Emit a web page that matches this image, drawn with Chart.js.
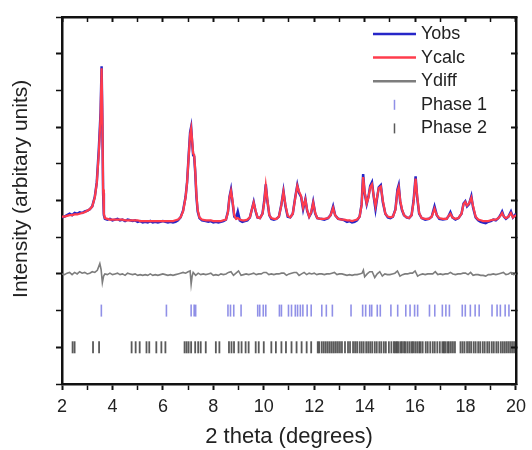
<!DOCTYPE html>
<html>
<head>
<meta charset="utf-8">
<script src="https://cdn.jsdelivr.net/npm/chart.js@4.4.0/dist/chart.umd.min.js"></script>
<style>
  html, body { margin: 0; padding: 0; background: #fff; }
  #wrap { width: 532px; height: 450px; }
</style>
</head>
<body>
<div id="wrap"><canvas id="xrdChart" width="532" height="450"></canvas></div>
<script>
// 2 theta grid of the measured / calculated pattern
const twoTheta = [
  2.00, 2.10, 2.20, 2.30, 2.40, 2.50, 2.60, 2.70, 2.80, 2.90,
  3.00, 3.10, 3.20, 3.30, 3.38, 3.46, 3.53, 3.57, 3.60, 3.63,
  3.66, 3.70, 3.80, 3.90, 4.00, 4.10, 4.20, 4.30, 4.40, 4.50,
  4.60, 4.70, 4.80, 4.90, 5.00, 5.10, 5.20, 5.30, 5.40, 5.50,
  5.60, 5.70, 5.80, 5.90, 6.00, 6.10, 6.20, 6.30, 6.40, 6.50,
  6.60, 6.70, 6.80, 6.90, 6.96, 7.02, 7.08, 7.12, 7.16, 7.20,
  7.24, 7.28, 7.33, 7.38, 7.45, 7.55, 7.70, 7.80, 7.90, 8.00,
  8.10, 8.20, 8.30, 8.40, 8.50, 8.58, 8.64, 8.70, 8.76, 8.83,
  8.90, 8.97, 9.05, 9.15, 9.25, 9.35, 9.45, 9.53, 9.60, 9.67,
  9.75, 9.85, 9.95, 10.02, 10.08, 10.14, 10.22, 10.30, 10.40, 10.50,
  10.60, 10.70, 10.78, 10.86, 10.95, 11.05, 11.15, 11.25, 11.33, 11.40,
  11.48, 11.56, 11.65, 11.72, 11.80, 11.88, 11.96, 12.04, 12.12, 12.25,
  12.40, 12.55, 12.65, 12.75, 12.83, 12.95, 13.10, 13.20, 13.30, 13.40,
  13.50, 13.60, 13.70, 13.80, 13.88, 13.94, 14.00, 14.08, 14.15, 14.22,
  14.29, 14.36, 14.43, 14.50, 14.56, 14.64, 14.72, 14.82, 14.92, 15.02,
  15.12, 15.22, 15.30, 15.35, 15.41, 15.48, 15.56, 15.66, 15.76, 15.86,
  15.94, 16.02, 16.08, 16.16, 16.26, 16.40, 16.55, 16.66, 16.77, 16.86,
  16.96, 17.10, 17.25, 17.33, 17.40, 17.48, 17.60, 17.72, 17.84, 17.92,
  17.99, 18.06, 18.14, 18.23, 18.30, 18.40, 18.50, 18.60, 18.70, 18.80,
  18.90, 19.00, 19.10, 19.20, 19.30, 19.38, 19.45, 19.52, 19.60, 19.70,
  19.80, 19.88, 19.95, 20.00
];

const yObs = [
  1.77, 1.78, 1.80, 1.82, 1.80, 1.83, 1.82, 1.84, 1.83, 1.85,
  1.86, 1.88, 1.92, 2.05, 2.25, 2.70, 3.20, 3.83, 3.10, 2.10,
  1.80, 1.75, 1.74, 1.75, 1.73, 1.74, 1.75, 1.73, 1.74, 1.72,
  1.74, 1.73, 1.72, 1.73, 1.71, 1.72, 1.70, 1.71, 1.70, 1.72,
  1.70, 1.71, 1.70, 1.71, 1.72, 1.71, 1.70, 1.71, 1.70, 1.71,
  1.73, 1.77, 1.86, 2.05, 2.25, 2.60, 2.93, 3.00, 2.79, 2.62,
  2.60, 2.40, 2.05, 1.85, 1.76, 1.73, 1.72, 1.71, 1.72, 1.70,
  1.71, 1.70, 1.71, 1.72, 1.74, 1.85, 2.05, 2.15, 1.98, 1.78,
  1.76, 1.85, 1.73, 1.71, 1.72, 1.73, 1.77, 1.88, 1.98, 1.86,
  1.77, 1.76, 1.82, 2.00, 2.22, 2.00, 1.80, 1.75, 1.74, 1.75,
  1.78, 1.95, 2.13, 1.92, 1.78, 1.77, 1.82, 2.05, 2.21, 2.10,
  2.05, 1.88, 2.02, 1.86, 1.78, 1.83, 1.98, 1.82, 1.76, 1.75,
  1.74, 1.76, 1.80, 1.92, 1.80, 1.75, 1.74, 1.73, 1.71, 1.72,
  1.70, 1.71, 1.73, 1.78, 1.95, 2.36, 2.10, 1.95, 2.05, 2.20,
  2.25, 2.05, 1.88, 2.05, 2.18, 2.21, 1.98, 1.82, 1.77, 1.76,
  1.78, 1.88, 2.15, 2.21, 1.98, 1.87, 1.80, 1.77, 1.76, 1.80,
  2.00, 2.33, 2.05, 1.82, 1.76, 1.74, 1.75, 1.78, 1.92, 1.80,
  1.75, 1.74, 1.75, 1.79, 1.84, 1.77, 1.74, 1.76, 1.82, 1.96,
  1.99, 1.92, 1.95, 2.06, 1.90, 1.77, 1.73, 1.71, 1.70, 1.69,
  1.71, 1.72, 1.74, 1.73, 1.76, 1.80, 1.85, 1.78, 1.75, 1.78,
  1.85, 1.77, 1.80, 1.82
];

const yCalc = [
  1.78, 1.78, 1.79, 1.80, 1.80, 1.81, 1.81, 1.82, 1.83, 1.84,
  1.86, 1.88, 1.92, 2.04, 2.24, 2.65, 3.15, 3.80, 3.15, 2.15,
  1.82, 1.76, 1.75, 1.74, 1.74, 1.74, 1.74, 1.74, 1.74, 1.73,
  1.73, 1.73, 1.73, 1.73, 1.73, 1.72, 1.72, 1.72, 1.72, 1.72,
  1.72, 1.72, 1.72, 1.72, 1.72, 1.72, 1.72, 1.72, 1.72, 1.73,
  1.74, 1.77, 1.85, 2.04, 2.25, 2.58, 2.90, 2.98, 2.82, 2.64,
  2.62, 2.42, 2.08, 1.87, 1.77, 1.74, 1.73, 1.73, 1.73, 1.72,
  1.72, 1.72, 1.72, 1.73, 1.74, 1.84, 2.04, 2.13, 2.00, 1.80,
  1.75, 1.76, 1.74, 1.73, 1.73, 1.74, 1.77, 1.88, 1.97, 1.87,
  1.77, 1.76, 1.82, 1.98, 2.20, 2.02, 1.80, 1.76, 1.75, 1.75,
  1.78, 1.94, 2.12, 1.94, 1.79, 1.77, 1.82, 2.04, 2.20, 2.12,
  2.06, 1.90, 2.01, 1.87, 1.78, 1.84, 1.97, 1.83, 1.76, 1.75,
  1.75, 1.76, 1.80, 1.90, 1.80, 1.75, 1.74, 1.74, 1.73, 1.73,
  1.72, 1.73, 1.74, 1.78, 1.94, 2.32, 2.12, 1.96, 2.04, 2.18,
  2.22, 2.06, 1.92, 2.06, 2.17, 2.19, 2.00, 1.82, 1.78, 1.77,
  1.78, 1.87, 2.12, 2.18, 2.00, 1.88, 1.80, 1.77, 1.76, 1.80,
  1.98, 2.30, 2.07, 1.83, 1.76, 1.75, 1.75, 1.78, 1.89, 1.80,
  1.76, 1.75, 1.75, 1.79, 1.82, 1.77, 1.75, 1.76, 1.82, 1.95,
  1.98, 1.93, 1.96, 2.04, 1.92, 1.78, 1.74, 1.73, 1.72, 1.72,
  1.72, 1.73, 1.74, 1.74, 1.76, 1.79, 1.83, 1.78, 1.76, 1.78,
  1.83, 1.77, 1.79, 1.80
];

// difference curve (offset baseline at 1)
const diffTheta = [
  2.0, 2.1, 2.2, 2.3, 2.4, 2.5, 2.6, 2.7, 2.8, 2.9, 3.0, 3.1, 3.2, 3.3, 3.4,
  3.5, 3.55, 3.6, 3.65, 3.7,
  3.8, 3.9, 4.0, 4.1, 4.2, 4.3, 4.4, 4.5, 4.6, 4.7, 4.8, 4.9, 5.0, 5.1, 5.2, 5.3,
  5.4, 5.5, 5.6, 5.7, 5.8, 5.9, 6.0, 6.1, 6.2, 6.3, 6.4, 6.5, 6.6, 6.7, 6.8, 6.9, 7.0,
  7.08, 7.12, 7.16,
  7.2, 7.3, 7.4, 7.5, 7.6, 7.7, 7.8, 7.9, 8.0, 8.1, 8.2, 8.3, 8.4, 8.5, 8.6, 8.7,
  8.8, 8.9, 9.0, 9.1, 9.2, 9.3, 9.4, 9.5, 9.6, 9.7, 9.8, 9.9, 10.0, 10.1, 10.2, 10.3,
  10.4, 10.5, 10.6, 10.7, 10.8, 10.9, 11.0, 11.1, 11.2, 11.3, 11.4, 11.5, 11.6, 11.7,
  11.8, 11.9, 12.0, 12.1, 12.2, 12.3, 12.4, 12.5, 12.6, 12.7, 12.8, 12.9, 13.0, 13.1,
  13.2, 13.3, 13.4, 13.5, 13.6, 13.7, 13.8, 13.9,
  13.95,
  14.0, 14.1, 14.2, 14.3, 14.4, 14.5, 14.6, 14.7, 14.8, 14.9, 15.0, 15.1, 15.2, 15.3,
  15.4, 15.5, 15.6, 15.7, 15.8, 15.9, 16.0, 16.1, 16.2, 16.3, 16.4, 16.5, 16.6, 16.7,
  16.8, 16.9, 17.0, 17.1, 17.2, 17.3, 17.4, 17.5, 17.6, 17.7, 17.8, 17.9, 18.0, 18.1,
  18.2, 18.3, 18.4, 18.5, 18.6, 18.7, 18.8, 18.9, 19.0, 19.1, 19.2, 19.3, 19.4, 19.5,
  19.6, 19.7, 19.8, 19.9, 20.0
];

const yDiff = [
  1.00, 0.99, 1.01, 1.02, 0.99, 1.02, 1.00, 1.03, 1.01, 1.02, 1.00, 1.01, 1.03, 1.02, 1.05,
  1.14, 1.06, 0.88, 0.97, 1.00,
  0.99, 1.01, 0.99, 1.00, 1.01, 0.99, 1.00, 0.98, 1.01, 1.00, 0.99, 1.00, 0.98, 0.99, 0.98, 0.99,
  0.98, 1.00, 0.98, 0.99, 0.98, 0.99, 1.00, 0.99, 0.98, 0.99, 0.98, 0.99, 1.00, 1.01, 1.02, 1.01, 1.03,
  1.04, 0.86, 0.97,
  1.02, 0.98, 1.01, 0.99, 1.00, 0.99, 1.00, 1.01, 0.98, 0.99, 0.98, 1.00, 0.99, 1.00, 1.02, 1.03,
  0.98, 1.01, 1.04, 0.98, 0.99, 1.00, 0.99, 1.00, 1.01, 0.99, 1.00, 1.00, 1.02, 1.02, 0.99, 1.00,
  0.99, 1.00, 1.00, 1.01, 1.01, 0.98, 1.00, 1.01, 1.02, 1.02, 0.98, 1.00, 1.02, 0.99,
  1.01, 1.00, 1.01, 0.99, 1.00, 1.00, 0.99, 1.00, 1.00, 1.01, 1.02, 0.99, 1.00, 1.00,
  0.99, 0.98, 0.99, 0.98, 0.99, 0.99, 1.00, 1.01,
  1.05,
  0.96, 1.00, 1.03, 1.03, 0.95, 1.00, 1.03, 0.97, 1.00, 0.99, 0.99, 1.00, 1.01, 1.04,
  0.97, 0.99, 1.00, 1.00, 1.01, 1.01, 1.04, 0.97, 0.99, 1.00, 0.99, 1.00, 1.00, 1.00,
  1.03, 0.99, 1.00, 0.99, 1.00, 1.00, 1.02, 1.00, 0.99, 1.00, 1.00, 1.01, 1.01, 0.99,
  1.02, 0.98, 0.99, 0.99, 0.98, 0.98, 0.97, 0.99, 0.99, 1.00, 0.99, 1.00, 1.01, 1.02,
  0.99, 1.00, 1.02, 0.99, 1.00
];

// Bragg reflection positions (2 theta)
const phase1Pos = [
  3.56, 6.14, 7.12, 7.24, 7.30, 8.58, 8.68, 8.81, 9.10, 9.76, 9.84, 9.98, 10.08,
  10.62, 10.70, 10.98, 11.10, 11.25, 11.34, 11.45, 11.55, 11.72, 11.88, 12.30,
  12.48, 12.72, 13.46, 13.92, 14.04, 14.20, 14.28, 14.50, 14.62, 15.04, 15.31,
  15.63, 15.80, 15.98, 16.10, 16.57, 16.78, 17.08, 17.22, 17.36, 17.87, 17.99,
  18.19, 18.38, 18.54, 19.05, 19.25, 19.38, 19.57, 19.72
];

const phase2Pos = [
  2.42, 2.50, 3.23, 3.47, 4.76, 4.92, 5.08, 5.35, 5.46, 5.74, 5.94, 6.10,
  6.86, 6.94, 7.02, 7.12, 7.28, 7.40, 7.50, 7.70, 8.10, 8.24, 8.62, 8.72, 8.82,
  9.00, 9.12, 9.28, 9.40, 9.68, 9.80, 10.00, 10.30, 10.48, 10.70, 10.88, 11.10,
  11.30, 11.50, 11.70, 11.88, 12.14, 12.20, 12.30, 12.38, 12.46, 12.54, 12.62,
  12.70, 12.78, 12.86, 12.94, 13.02, 13.10, 13.22, 13.34, 13.42, 13.54, 13.62,
  13.70, 13.80, 13.88, 13.96, 14.06, 14.14, 14.22, 14.30, 14.40, 14.48, 14.58,
  14.66, 14.76, 14.84, 14.96, 15.06, 15.16, 15.22, 15.28, 15.34, 15.42, 15.48,
  15.56, 15.62, 15.70, 15.78, 15.86, 15.92, 16.00, 16.08, 16.16, 16.22, 16.30,
  16.42, 16.50, 16.60, 16.70, 16.78, 16.88, 16.98, 17.08, 17.14, 17.20, 17.28,
  17.34, 17.42, 17.50, 17.58, 17.80, 17.88, 17.96, 18.06, 18.14, 18.22, 18.32,
  18.40, 18.50, 18.58, 18.68, 18.76, 18.86, 18.94, 19.04, 19.12, 19.22, 19.30,
  19.40, 19.48, 19.56, 19.64, 19.72, 19.80, 19.88, 19.96
];

const phase1Row = 0.5;
const phase2Row = 0;

const FONT = '"Liberation Sans", Arial, sans-serif';

// legend drawn inside the plot, top right
const insideLegend = {
  id: 'insideLegend',
  afterDraw(chart) {
    const c = chart.ctx, area = chart.chartArea;
    const x0 = area.right - 143, x1 = area.right - 100, tx = area.right - 95;
    c.save();
    c.font = '18px ' + FONT;
    c.textBaseline = 'middle';
    chart.data.datasets.forEach((ds, i) => {
      const y = area.top + 17 + i * 23.6;
      c.strokeStyle = ds.borderColor;
      c.beginPath();
      if (ds.showLine === false) {
        c.lineWidth = 1.5;
        c.moveTo((x0 + x1) / 2, y - 5);
        c.lineTo((x0 + x1) / 2, y + 5);
      } else {
        c.lineWidth = 2.5;
        c.moveTo(x0, y);
        c.lineTo(x1, y);
      }
      c.stroke();
      c.fillStyle = '#222';
      c.fillText(ds.label, tx, y);
    });
    c.restore();
  }
};

// thicker marks on the labelled (major) ticks
const tickW = ctx => (ctx.tick && Math.abs(ctx.tick.value % 1) < 1e-6 && (ctx.scale.isHorizontal() ? ctx.tick.value % 2 === 0 : true)) ? 2 : 1.5;

new Chart(document.getElementById('xrdChart'), {
  type: 'line',
  data: {
    datasets: [
      {
        label: 'Yobs',
        data: twoTheta.map((t, i) => ({ x: t, y: yObs[i] })),
        borderColor: '#2626c8',
        borderWidth: 2.5,
        pointRadius: 0,
        order: 1
      },
      {
        label: 'Ycalc',
        data: twoTheta.map((t, i) => ({ x: t, y: yCalc[i] })),
        borderColor: '#ff3c4c',
        borderWidth: 2.2,
        pointRadius: 0,
        order: 0
      },
      {
        label: 'Ydiff',
        data: diffTheta.map((t, i) => ({ x: t, y: yDiff[i] })),
        borderColor: '#7d7d7d',
        borderWidth: 1.6,
        pointRadius: 0,
        order: 0
      },
      {
        label: 'Phase 1',
        data: phase1Pos.map(t => ({ x: t, y: phase1Row })),
        showLine: false,
        borderColor: 'rgba(70, 70, 215, 0.6)',
        pointStyle: 'line',
        pointRotation: 90,
        pointRadius: 6,
        pointBorderWidth: 1.6,
        order: 0
      },
      {
        label: 'Phase 2',
        data: phase2Pos.map(t => ({ x: t, y: phase2Row })),
        showLine: false,
        borderColor: 'rgba(20, 20, 20, 0.7)',
        pointStyle: 'line',
        pointRotation: 90,
        pointRadius: 6,
        pointBorderWidth: 1.8,
        order: 0
      }
    ]
  },
  options: {
    responsive: false,
    animation: false,
    devicePixelRatio: 1,
    layout: { padding: 0 },
    plugins: { legend: { display: false }, tooltip: { enabled: false } },
    elements: { line: { tension: 0 } },
    scales: {
      x: {
        type: 'linear', position: 'bottom', min: 2, max: 20,
        border: { color: '#111', width: 2.5 },
        grid: { drawOnChartArea: false, tickLength: 6, tickColor: '#111', tickWidth: tickW },
        ticks: {
          stepSize: 1, autoSkip: false, maxRotation: 0, padding: 6, color: '#222',
          font: { family: FONT, size: 18 },
          callback: v => (v % 2 === 0 ? v : '')
        },
        title: { display: true, text: '2 theta (degrees)', color: '#222', font: { family: FONT, size: 22 }, padding: { top: 0, bottom: 0 } },
        afterFit: s => { s.height = 66; }
      },
      xTop: {
        type: 'linear', position: 'top', min: 2, max: 20,
        border: { color: '#111', width: 2.5 },
        grid: { drawOnChartArea: false, tickLength: -5, tickColor: '#111', tickWidth: tickW },
        ticks: { stepSize: 1, autoSkip: false, display: false },
        afterFit: s => { s.height = 17; }
      },
      y: {
        type: 'linear', position: 'left', min: -0.5, max: 4.5,
        border: { color: '#111', width: 2.5 },
        grid: { drawOnChartArea: false, tickLength: 6, tickColor: '#111', tickWidth: tickW },
        ticks: { stepSize: 0.5, autoSkip: false, display: false },
        title: { display: true, text: '    Intensity (arbitary units)', color: '#222', font: { family: FONT, size: 21 }, padding: { top: 9, bottom: 0 } },
        afterFit: s => { s.width = 62; }
      },
      yRight: {
        type: 'linear', position: 'right', min: -0.5, max: 4.5,
        border: { color: '#111', width: 2.5 },
        grid: { drawOnChartArea: false, tickLength: -5, tickColor: '#111', tickWidth: tickW },
        ticks: { stepSize: 0.5, autoSkip: false, display: false },
        afterFit: s => { s.width = 13; }
      }
    }
  },
  plugins: [insideLegend]
});
</script>
</body>
</html>
